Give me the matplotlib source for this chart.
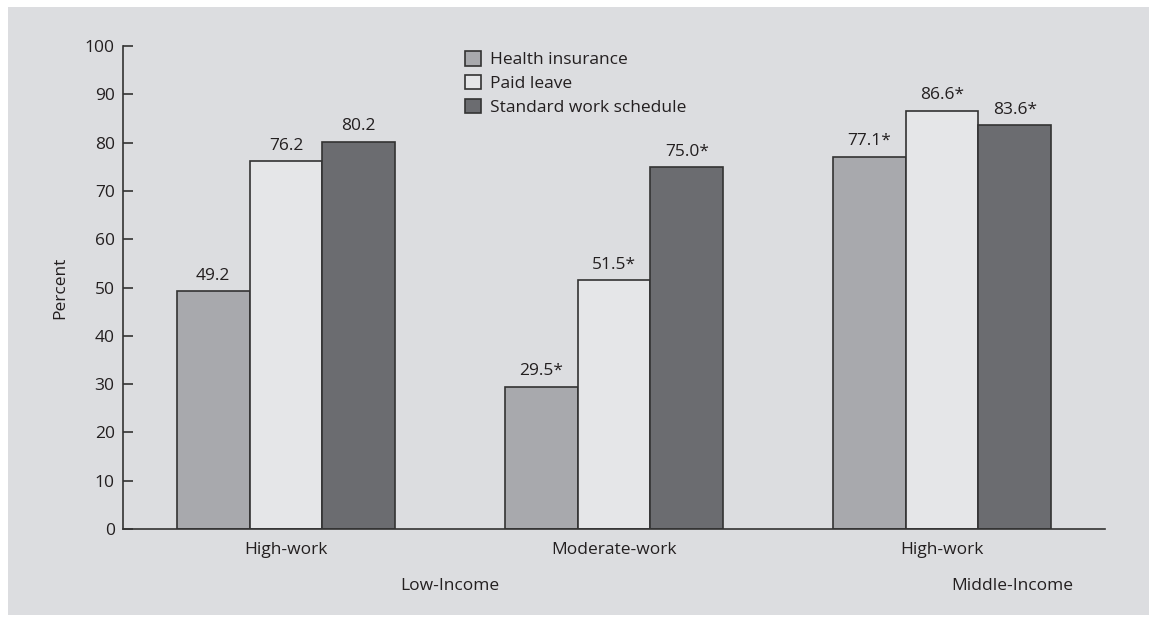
import numpy as np
import matplotlib.pyplot as plt
from matplotlib.patches import Rectangle

plt.rcParams['font.family'] = ['Open Sans', 'DejaVu Sans']

groups = ["High-work", "Moderate-work", "High-work"]
series = ["Health insurance", "Paid leave", "Standard work schedule"]
health = [49.2, 29.5, 77.1]
paid = [76.2, 51.5, 86.6]
standard = [80.2, 75.0, 83.6]
labels = [["49.2", "29.5*", "77.1*"],
          ["76.2", "51.5*", "86.6*"],
          ["80.2", "75.0*", "83.6*"]]
colors = ["#a8a9ad", "#e5e6e8", "#6b6c70"]
bg = "#dcdde0"
txt = "#231f20"
fs = 12.5

fig = plt.figure(figsize=(11.57, 6.23), dpi=100, facecolor="white")
fig.patches.append(Rectangle((8 / 1157, 8 / 623), 1141 / 1157, 608 / 623,
                             transform=fig.transFigure, facecolor=bg,
                             edgecolor="none", zorder=-1))
ax = fig.add_axes([123 / 1157, 1 - 529 / 623, (1105 - 123) / 1157, (529 - 46) / 623])
ax.set_facecolor("none")

x = np.arange(len(groups))
w = 0.222
for i, vals in enumerate([health, paid, standard]):
    bars = ax.bar(x + (i - 1) * w, vals, w, color=colors[i], edgecolor="#333333",
                  linewidth=1.2, label=series[i])
    for b, lab in zip(bars, labels[i]):
        ax.text(b.get_x() + b.get_width() / 2, b.get_height() + 1.5, lab,
                ha="center", va="bottom", fontsize=fs, color=txt)

ax.set_xlim(-0.497, 2.497)
ax.set_ylim(0, 100)
ax.set_yticks(range(0, 101, 10))
ax.set_xticks([])
for s in ["top", "right"]:
    ax.spines[s].set_visible(False)
for s in ["left", "bottom"]:
    ax.spines[s].set_color("#333333")
    ax.spines[s].set_linewidth(1.2)
ax.tick_params(axis="y", direction="in", length=7, width=1.2, color="#333333",
               labelsize=fs, labelcolor=txt, pad=6)
ax.set_ylabel("Percent", fontsize=fs, color=txt, labelpad=12)

for xi, g in zip(x, groups):
    ax.text(xi, -4.4, g, ha="center", va="center", fontsize=fs, color=txt,
            clip_on=False)
ax.text(0.5, -11.8, "Low-Income", ha="center", va="center", fontsize=fs,
        color=txt, clip_on=False)
ax.text(2.213, -11.8, "Middle-Income", ha="center", va="center", fontsize=fs,
        color=txt, clip_on=False)

leg = ax.legend(loc="upper left", bbox_to_anchor=(0.338, 1.011), frameon=False,
                fontsize=fs, handlelength=0.9, handleheight=0.9, handletextpad=0.5,
                labelspacing=0.38, borderaxespad=0.2)
for t in leg.get_texts():
    t.set_color(txt)

fig.savefig("out.png", dpi=100, facecolor="white")
